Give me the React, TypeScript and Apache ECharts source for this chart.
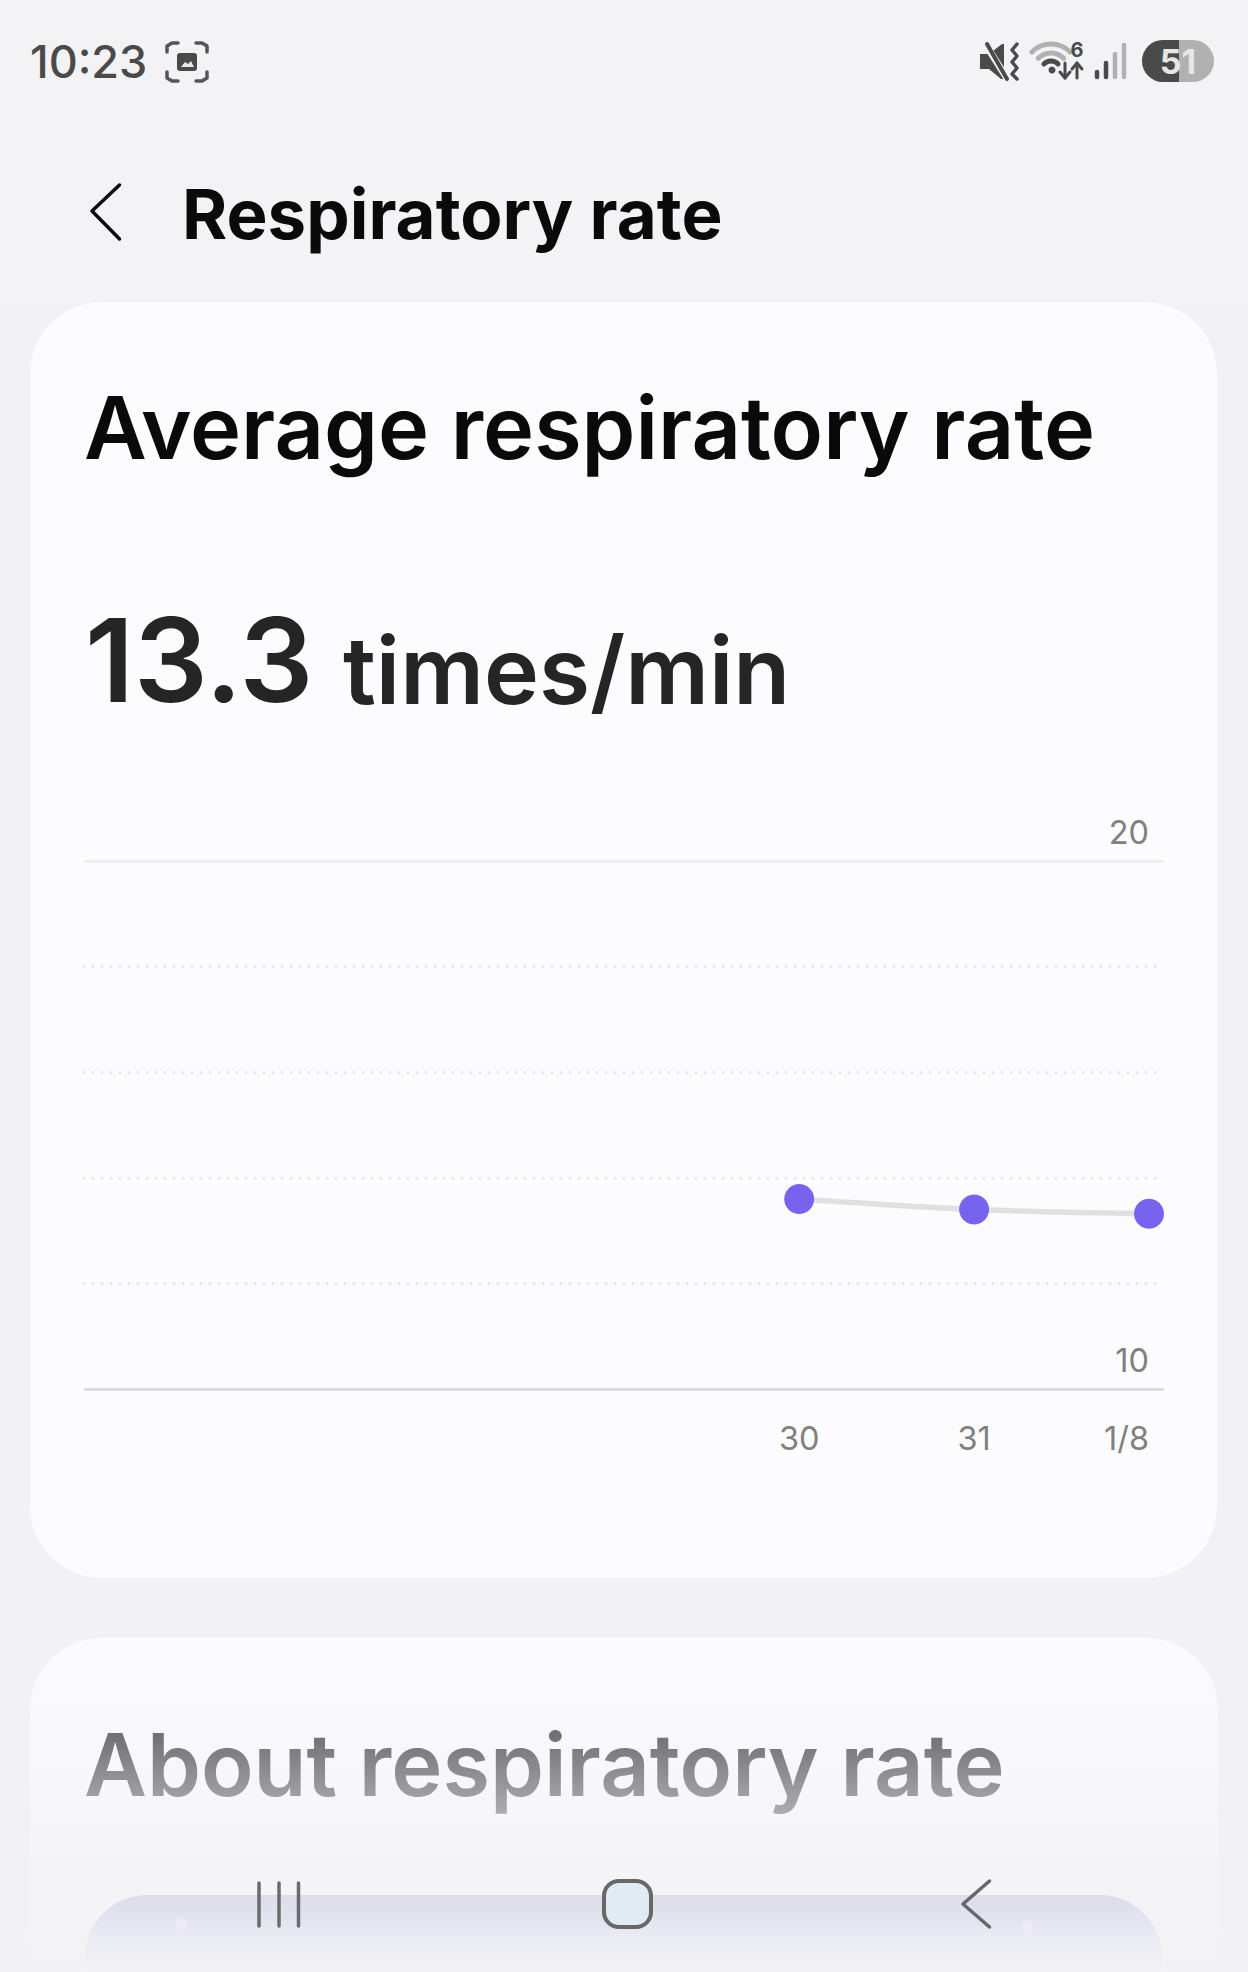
import React, { useEffect, useRef } from "react";
import * as echarts from "echarts";

const dayIndex = [4, 5, 6];
const rates = [13.6, 13.4, 13.32];
const xTickValues = [4, 5, 6];
const xTickLabels: Record<number, string> = { 4: "30", 5: "31", 6: "1/8" };
const yMin = 10;
const yMax = 20;

const FONT = "Inter, 'Noto Sans', sans-serif";
const DARK = "#4a4a4a";
const LIGHT = "#b1b1b1";

const line = (pts: number[][], stroke: string, lineWidth: number) => ({
  type: "polyline",
  shape: { points: pts },
  style: { stroke, lineWidth, fill: null, lineCap: "round", lineJoin: "round" },
});
const txt = (text: string, x: number, y: number, fontSize: number, fontWeight: number, fill: any, textAlign = "left") => ({
  type: "text",
  style: { text, x, y, fontSize, fontWeight, fontFamily: FONT, fill, textAlign, textVerticalAlign: "middle" },
});
const arc = (cx: number, cy: number, r: number, stroke: string, lineWidth: number) => ({
  type: "arc",
  shape: { cx, cy, r, startAngle: (5 * Math.PI) / 4, endAngle: (7 * Math.PI) / 4, clockwise: true },
  style: { stroke, lineWidth, fill: null, lineCap: "round" },
});
const vGrad = (stops: [number, string][]) =>
  new echarts.graphic.LinearGradient(0, 0, 0, 1, stops.map(([offset, color]) => ({ offset, color })));

const backdrop: any[] = [
  { type: "rect", shape: { x: 0, y: 0, width: 1248, height: 1972 }, style: { fill: "#f2f2f4" } },
  { type: "rect", shape: { x: 0, y: 0, width: 1248, height: 301 }, style: { fill: "#f3f3f6" } },
  { type: "rect", shape: { x: 30, y: 302, width: 1187, height: 1276, r: 72 }, style: { fill: "#fcfcfe" } },
  {
    type: "rect",
    shape: { x: 30, y: 1638, width: 1188, height: 334, r: [72, 72, 0, 0] },
    style: { fill: vGrad([[0, "#fbfbfd"], [0.75, "#f4f4f6"], [1, "#f2f2f4"]]) },
  },
];

const frontCard: any[] = [
  {
    type: "rect",
    shape: { x: 85, y: 1895, width: 1077, height: 77, r: [62, 62, 0, 0] },
    style: { fill: vGrad([[0, "#dcdcea"], [0.5, "#e8e9f2"], [1, "#f3f3f5"]]) },
  },
  { type: "ellipse", shape: { cx: 181, cy: 1925, rx: 5, ry: 7 }, style: { fill: "#ecebf6" } },
  { type: "ellipse", shape: { cx: 1027, cy: 1927, rx: 5, ry: 7 }, style: { fill: "#ecebf6" } },
];

const statusBar: any[] = [
  txt("10:23", 30, 61, 45, 500, DARK),
  // screenshot indicator
  line([[167, 52], [167, 46], [172, 43], [178, 43]], "#555", 3.5),
  line([[196, 43], [202, 43], [207, 46], [207, 52]], "#555", 3.5),
  line([[167, 72], [167, 78], [172, 81], [178, 81]], "#555", 3.5),
  line([[196, 81], [202, 81], [207, 78], [207, 72]], "#555", 3.5),
  { type: "rect", shape: { x: 177, y: 53, width: 20, height: 18, r: 3 }, style: { fill: DARK } },
  { type: "polygon", shape: { points: [[181, 67], [185, 62], [188, 64], [191, 61], [194, 67]] }, style: { fill: "#e8e8ea" } },
  // mute + vibrate
  { type: "polygon", shape: { points: [[980, 54], [989, 54], [1002, 44], [1004, 44], [1004, 79], [1001, 79], [989, 69], [980, 69]] }, style: { fill: DARK } },
  line([[984, 42], [1008, 80]], "#f3f3f6", 7),
  line([[987, 44], [1007, 79]], DARK, 4),
  line([[1017, 44], [1012, 50], [1017, 56], [1012, 62], [1017, 68], [1012, 74], [1017, 79]], DARK, 3.5),
  // wifi
  arc(1051, 71, 27, LIGHT, 5),
  arc(1051, 71, 18, LIGHT, 5),
  arc(1051, 71, 10, DARK, 5),
  { type: "circle", shape: { cx: 1052, cy: 70, r: 3.5 }, style: { fill: DARK } },
  txt("6", 1077, 50, 20, 700, DARK, "center"),
  line([[1065, 63], [1065, 78]], DARK, 3),
  line([[1060, 72], [1065, 78], [1070, 72]], DARK, 3),
  line([[1077, 63], [1077, 78]], DARK, 3),
  line([[1072, 69], [1077, 63], [1082, 69]], DARK, 3),
  // signal
  line([[1097, 72], [1097, 77]], DARK, 4.5),
  line([[1106, 63], [1106, 77]], DARK, 4.5),
  line([[1115, 54], [1115, 77]], LIGHT, 4.5),
  line([[1124, 45], [1124, 77]], LIGHT, 4.5),
  // battery
  { type: "rect", shape: { x: 1142, y: 40, width: 72, height: 42, r: 21 }, style: { fill: LIGHT } },
  { type: "rect", shape: { x: 1142, y: 40, width: 37, height: 42, r: [21, 0, 0, 21] }, style: { fill: DARK } },
  txt("51", 1178, 61, 34, 700, "#e6e6e6", "center"),
];

const header: any[] = [
  line([[119.5, 185], [92, 211], [119.5, 239]], "#0c0c0c", 3.5),
  txt("Respiratory rate", 182, 214, 69, 700, "#0a0a0a"),
  txt("Average respiratory rate", 84, 427, 86.3, 600, "#0a0a0a"),
  txt("13.3", 85, 660, 116, 600, "#252525"),
  txt("times/min", 343, 670, 93, 600, "#252525"),
  txt("About respiratory rate", 84, 1764, 86.5, 600, "#666668"),
  // fade that runs over the section heading
  {
    type: "rect",
    shape: { x: 70, y: 1720, width: 1040, height: 100 },
    style: { fill: vGrad([[0, "rgba(249,249,251,0)"], [1, "rgba(247,247,249,0.52)"]]) },
  },
];

const navBar: any[] = [
  line([[259, 1883], [259, 1926]], "#6b6b6b", 3.5),
  line([[279, 1883], [279, 1926]], "#6b6b6b", 3.5),
  line([[298.5, 1883], [298.5, 1926]], "#6b6b6b", 3.5),
  { type: "rect", shape: { x: 604, y: 1881, width: 47, height: 46, r: 15 }, style: { fill: "#e1ebf4", stroke: "#686868", lineWidth: 4 } },
  line([[989.5, 1881], [963, 1904], [989.5, 1927]], "#686868", 3.5),
];

export default function App() {
  const ref = useRef<HTMLDivElement>(null);
  useEffect(() => {
    const chart = echarts.init(ref.current!, null, { renderer: "svg" });
    chart.setOption({
      animation: false,
      graphic: { elements: [...backdrop, ...header, ...frontCard, ...statusBar, ...navBar] },
      grid: [
        { left: 84, right: 84, top: 861, height: 528 },
        { left: 84, width: 1072, top: 861, height: 528 },
      ],
      xAxis: [
        {
          type: "value",
          gridIndex: 0,
          z: 2,
          min: -0.089,
          max: 6.0858,
          axisLine: { show: true, onZero: false, lineStyle: { color: "#dddddd", width: 3, cap: "butt" } },
          axisTick: { show: false },
          splitLine: { show: false },
          axisLabel: {
            customValues: xTickValues,
            formatter: (v: number) => xTickLabels[v] ?? "",
            color: "#808080",
            fontFamily: FONT,
            fontSize: 32.5,
            margin: 33,
            alignMaxLabel: "right",
          },
        },
        { type: "value", gridIndex: 1, show: false, min: 0, max: 1 },
      ],
      yAxis: [
        {
          type: "value",
          gridIndex: 0,
          z: 2,
          position: "right",
          min: yMin,
          max: yMax,
          interval: 10,
          axisLine: { show: false },
          axisTick: { show: false },
          axisLabel: {
            inside: true,
            color: "#808080",
            fontFamily: FONT,
            fontSize: 32.5,
            margin: 15,
            align: "right",
            verticalAlign: "bottom",
            lineHeight: 58,
          },
          splitLine: { show: true, showMinLine: false, lineStyle: { color: "#efeff0", width: 3, cap: "butt" } },
        },
        {
          type: "value",
          gridIndex: 1,
          z: 2,
          min: yMin,
          max: yMax,
          interval: 2,
          axisLine: { show: false },
          axisTick: { show: false },
          axisLabel: { show: false },
          splitLine: {
            show: true,
            showMinLine: false,
            showMaxLine: false,
            lineStyle: { color: "#e6e6ea", width: 2.8, type: [0, 9], cap: "round" },
          },
        },
      ],
      series: [
        {
          type: "line",
          xAxisIndex: 0,
          yAxisIndex: 0,
          z: 5,
          data: dayIndex.map((d, i) => [d, rates[i]]),
          smooth: 0.3,
          clip: false,
          symbol: "circle",
          symbolSize: 30,
          itemStyle: { color: "#7763ee" },
          lineStyle: { color: "#e0e0e0", width: 5.5 },
        },
      ],
    });
    return () => chart.dispose();
  }, []);
  return <div ref={ref} style={{ position: "absolute", left: 0, top: 0, width: 1248, height: 1972 }} />;
}
